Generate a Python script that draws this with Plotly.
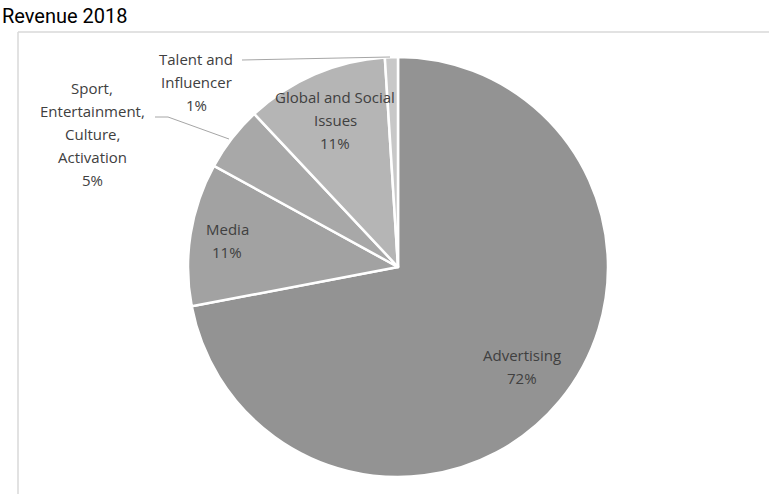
import plotly.graph_objects as go

W, H = 769, 494

labels = ["Advertising", "Media", "Sport, Entertainment, Culture, Activation",
          "Global and Social Issues", "Talent and Influencer"]
values = [72, 11, 5, 11, 1]
label_lines = [["Advertising"], ["Media"], ["Sport,", "Entertainment,", "Culture,", "Activation"],
               ["Global and Social", "Issues"], ["Talent and", "Influencer"]]
colors = ["#939393", "#a2a2a2", "#a8a8a8", "#b5b5b5", "#c8c8c8"]
title_text = "Revenue 2018"

def px(x):
    return x / W

def py(y):
    return 1 - y / H

cx, cy, r = 398, 267, 210

fig = go.Figure(go.Pie(
    labels=labels, values=values, sort=False, direction="clockwise", rotation=0,
    marker=dict(colors=colors, line=dict(color="white", width=2.5)),
    textinfo="none", hoverinfo="label+percent", showlegend=False,
    domain=dict(x=[px(cx - r), px(cx + r)], y=[py(cy + r), py(cy - r)]),
))

# first-line centre (pixel) for each slice label
label_pos = [(522, 355), (227, 229), (92, 88), (335, 97), (196, 59)]
line_h = 23
total = sum(values)
for lines, v, (x, y) in zip(label_lines, values, label_pos):
    all_lines = lines + [f"{round(100 * v / total)}%"]
    for i, t in enumerate(all_lines):
        fig.add_annotation(x=px(x), y=py(y + i * line_h), xref="paper", yref="paper",
                           text=t, showarrow=False, xanchor="center", yanchor="middle",
                           font=dict(family="Open Sans, sans-serif", size=15, color="#404040"))

line_col = "#a6a6a6"
shapes = [
    # frame
    dict(type="line", xref="paper", yref="paper", x0=px(18), x1=px(18), y0=py(32), y1=0,
         line=dict(color="#d9d9d9", width=1.5)),
    dict(type="line", xref="paper", yref="paper", x0=px(18), x1=1, y0=py(32), y1=py(32),
         line=dict(color="#d9d9d9", width=1.5)),
    # leader lines
    dict(type="line", xref="paper", yref="paper", x0=px(242), x1=px(390), y0=py(60), y1=py(57),
         line=dict(color=line_col, width=1)),
    dict(type="line", xref="paper", yref="paper", x0=px(155), x1=px(168), y0=py(117), y1=py(117),
         line=dict(color=line_col, width=1)),
    dict(type="line", xref="paper", yref="paper", x0=px(168), x1=px(229), y0=py(117), y1=py(139),
         line=dict(color=line_col, width=1)),
]

fig.add_annotation(x=0, y=py(16), xref="paper", yref="paper", text=title_text,
                   showarrow=False, xanchor="left", yanchor="middle",
                   font=dict(family="Roboto, sans-serif", size=20, color="#000000"))

fig.update_layout(width=W, height=H, margin=dict(l=0, r=0, t=0, b=0),
                  paper_bgcolor="white", plot_bgcolor="white", shapes=shapes)

fig.write_html("out.html")
